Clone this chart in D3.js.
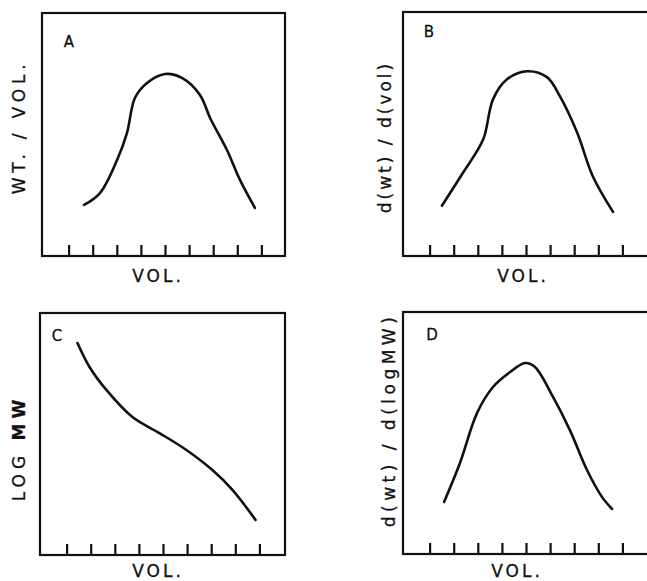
<!DOCTYPE html>
<html>
<head>
<meta charset="utf-8">
<script src="https://cdn.jsdelivr.net/npm/d3@7"></script>
<style>
  body { margin: 0; background: #fff; }
  text { font-family: "DejaVu Sans", sans-serif; fill: #111; stroke: #111; stroke-width: 0.3px; }
</style>
</head>
<body>
<script>
  const width = 647, height = 581;

  // x ticks along every bottom axis (arbitrary volume units)
  const volTicks = [1, 2, 3, 4, 5, 6, 7, 8, 9];

  // curves, [vol, value] on a 0..10 frame
  const curveA = [[1.62, 2.10], [2.28, 2.59], [2.99, 3.95], [3.40, 5.06], [3.73, 6.50],
                  [4.23, 7.12], [4.98, 7.49], [5.68, 7.33], [6.43, 6.63], [6.85, 5.68],
                  [7.55, 4.36], [8.09, 3.13], [8.71, 1.98]];
  const curveB = [[1.49, 2.06], [2.37, 3.42], [3.20, 4.77], [3.61, 6.42], [4.19, 7.24],
                  [5.02, 7.57], [5.85, 7.33], [6.39, 6.54], [7.10, 5.06], [7.76, 3.25],
                  [8.59, 1.81]];
  const curveC = [[1.43, 8.76], [1.93, 7.77], [2.63, 6.82], [3.71, 5.70], [4.83, 5.04],
                  [5.95, 4.34], [7.03, 3.51], [7.86, 2.69], [8.82, 1.45]];
  const curveD = [[1.58, 2.15], [2.24, 3.76], [2.95, 5.83], [3.61, 6.90], [4.32, 7.52],
                  [4.94, 7.89], [5.35, 7.73], [6.10, 6.49], [6.80, 5.12], [7.51, 3.47],
                  [8.13, 2.36], [8.55, 1.86]];

  const panelNames = ["A", "B", "C", "D"];
  const yLabels = ["WT. / VOL.", "d(wt) / d(vol)", "LOG MW", "d(wt) / d(logMW)"];
  const xLabel = "VOL.";

  const svg = d3.select("body").append("svg")
      .attr("width", width)
      .attr("height", height);

  // frame geometry for each panel (B and D run off the right edge)
  const frames = [
    {x: 42,  y: 13,  w: 243, h: 243, lx: 19,  ly: 127, ls: 4.8, nx: 69,  ny: 47,  vx: 158, vy: 282},
    {x: 403, y: 12,  w: 250, h: 244, lx: 385, ly: 137, ls: 3,   nx: 429, ny: 37,  vx: 523, vy: 282},
    {x: 40,  y: 313, w: 245, h: 242, lx: 19,  ly: 448, ls: 5,   nx: 57,  ny: 341, vx: 158, vy: 577},
    {x: 403, y: 312, w: 250, h: 242, lx: 389, ly: 420, ls: 4.5, nx: 432, ny: 340, vx: 517, vy: 577}
  ];
  const curves = [curveA, curveB, curveC, curveD];

  frames.forEach((f, i) => {
    var g = svg.append("g").attr("class", "panel");

    var x = d3.scaleLinear().domain([0, 10]).range([f.x + 3, f.x + 244]);
    var y = d3.scaleLinear().domain([0, 10]).range([f.y + f.h, f.y]);

    g.append("rect")
      .attr("x", f.x)
      .attr("y", f.y)
      .attr("width", f.w)
      .attr("height", f.h)
      .attr("fill", "none")
      .attr("stroke", "#111")
      .attr("stroke-width", 2.2);

    // inward ticks sitting on the bottom edge
    g.selectAll("line.tick")
      .data(volTicks)
      .join("line")
        .attr("class", "tick")
        .attr("x1", d => x(d))
        .attr("x2", d => x(d))
        .attr("y1", f.y + f.h)
        .attr("y2", f.y + f.h - 11)
        .attr("stroke", "#111")
        .attr("stroke-width", 2.2);

    var line = d3.line()
      .x(d => x(d[0]))
      .y(d => y(d[1]))
      .curve(d3.curveCatmullRom.alpha(0.5));

    g.append("path")
      .datum(curves[i])
      .attr("d", line)
      .attr("fill", "none")
      .attr("stroke", "#111")
      .attr("stroke-width", 2.6)
      .attr("stroke-linecap", "round")
      .attr("stroke-linejoin", "round");

    g.append("text")
      .attr("x", f.nx)
      .attr("y", f.ny)
      .attr("text-anchor", "middle")
      .attr("font-size", 15)
      .text(panelNames[i]);

    g.append("text")
      .attr("x", f.vx)
      .attr("y", f.vy)
      .attr("text-anchor", "middle")
      .attr("font-size", 17)
      .attr("letter-spacing", 3)
      .text(xLabel);

    var yl = g.append("text")
      .attr("transform", `translate(${f.lx},${f.ly}) rotate(-90)`)
      .attr("text-anchor", "middle")
      .attr("dominant-baseline", "central")
      .attr("font-size", 17)
      .attr("letter-spacing", f.ls);

    if (yLabels[i] == "LOG MW") {
      // MW is drawn heavier in the original
      yl.append("tspan").text("LOG ");
      yl.append("tspan").attr("font-weight", "bold").text("MW");
    } else {
      yl.text(yLabels[i]);
    }
  });
</script>
</body>
</html>
